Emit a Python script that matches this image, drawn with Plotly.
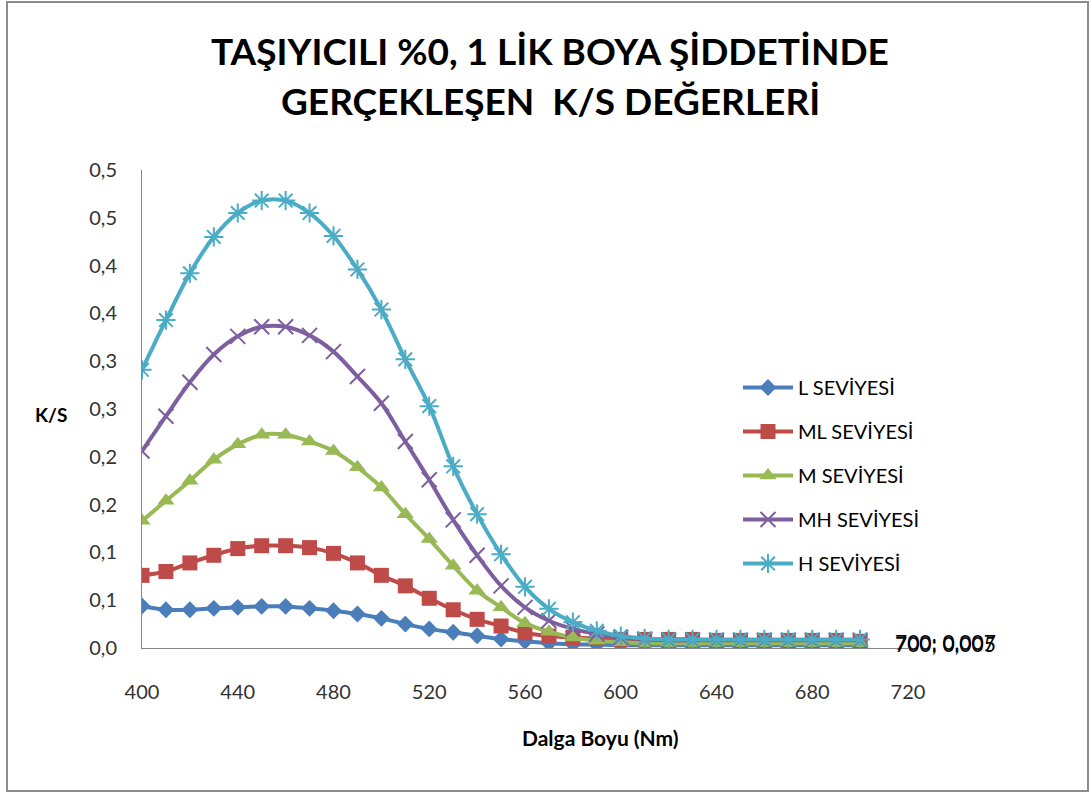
import plotly.graph_objects as go

# Wavelength (nm) and K/S values per dye level
wavelength = list(range(400, 701, 10))

ks_L = [0.044, 0.040, 0.040, 0.0415, 0.0425, 0.0435, 0.0435, 0.0415, 0.039, 0.0355,
        0.031, 0.025, 0.020, 0.0164, 0.0128, 0.0094, 0.007, 0.005, 0.004, 0.0035,
        0.003, 0.003, 0.003, 0.003, 0.003, 0.003, 0.003, 0.003, 0.003, 0.003, 0.003]
ks_ML = [0.076, 0.080, 0.089, 0.097, 0.104, 0.107, 0.107, 0.105, 0.099, 0.089,
         0.076, 0.065, 0.052, 0.040, 0.030, 0.023, 0.016, 0.0125, 0.011, 0.010,
         0.009, 0.009, 0.009, 0.009, 0.008, 0.008, 0.008, 0.008, 0.008, 0.008, 0.007]
ks_M = [0.133, 0.154, 0.175, 0.197, 0.213, 0.223, 0.223, 0.216, 0.206, 0.189,
        0.168, 0.140, 0.114, 0.086, 0.060, 0.0425, 0.026, 0.017, 0.011, 0.0076,
        0.006, 0.005, 0.005, 0.005, 0.005, 0.005, 0.005, 0.005, 0.005, 0.005, 0.005]
ks_MH = [0.206, 0.2425, 0.278, 0.307, 0.326, 0.336, 0.336, 0.327, 0.310, 0.284,
         0.256, 0.216, 0.176, 0.134, 0.097, 0.065, 0.0425, 0.0285, 0.020, 0.0146,
         0.011, 0.009, 0.008, 0.008, 0.008, 0.008, 0.008, 0.008, 0.008, 0.008, 0.008]
ks_H = [0.291, 0.343, 0.392, 0.430, 0.455, 0.468, 0.468, 0.455, 0.431, 0.396,
        0.354, 0.302, 0.253, 0.190, 0.140, 0.098, 0.064, 0.041, 0.027, 0.018,
        0.0125, 0.010, 0.009, 0.009, 0.009, 0.009, 0.009, 0.009, 0.009, 0.009, 0.009]

series_names = ["L SEVİYESİ", "ML SEVİYESİ", "M SEVİYESİ", "MH SEVİYESİ", "H SEVİYESİ"]
series_values = [ks_L, ks_ML, ks_M, ks_MH, ks_H]
series_colors = ["#4A7EBB", "#BE4B48", "#98B954", "#7D5FA0", "#4BACC6"]
series_symbols = ["diamond", "square", "triangle-up", "x-thin-open", "asterisk-open"]
series_sizes = [13, 15, 15, 15, 16]

x_ticks = [400, 440, 480, 520, 560, 600, 640, 680, 720]
y_ticks = [0, 0.05, 0.10, 0.15, 0.20, 0.25, 0.30, 0.35, 0.40, 0.45, 0.50]
y_tick_text = ["0,0", "0,1", "0,1", "0,2", "0,2", "0,3", "0,3", "0,4", "0,4", "0,5", "0,5"]

# Value labels on the last point (series index, text)
end_labels = [(2, "700; 0,005"), (1, "700; 0,007")]

W, H = 1092, 794
ML_, MR_, MT_, MB_ = 142, 184, 170, 146
PW, PH = W - ML_ - MR_, H - MT_ - MB_


def px(x):
    return (x - ML_) / PW


def py(y):
    return (H - MB_ - y) / PH


FONT = "Lato"
fig = go.Figure()

for i, (name, vals, col, sym, sz) in enumerate(
        zip(series_names, series_values, series_colors, series_symbols, series_sizes)):
    line_marker = dict(symbol=sym, size=sz, color=col)
    if sym.endswith("-open"):
        line_marker["line"] = dict(color=col, width=2)
    fig.add_trace(go.Scatter(
        x=wavelength, y=vals, name=name, mode="lines+markers",
        line=dict(color=col, width=4, shape="spline", smoothing=1),
        marker=line_marker, legendgroup=f"g{i}",
    ))

for idx, txt in end_labels:
    fig.add_annotation(x=wavelength[-1], y=series_values[idx][-1], text=txt,
                       showarrow=False, xanchor="left", yanchor="middle", xshift=33,
                       font=dict(family=FONT, size=21, color="#000"))

# Title lines
fig.add_annotation(x=px(550), y=py(50), xref="paper", yref="paper",
                   text="<b>TAŞIYICILI %0, 1 LİK BOYA ŞİDDETİNDE</b>", showarrow=False,
                   xanchor="center", yanchor="middle",
                   font=dict(family=FONT, size=37, color="#000"))
fig.add_annotation(x=px(550), y=py(101), xref="paper", yref="paper",
                   text="<b>GERÇEKLEŞEN  K/S DEĞERLERİ</b>", showarrow=False,
                   xanchor="center", yanchor="middle",
                   font=dict(family=FONT, size=37, color="#000"))

# Axis titles
fig.add_annotation(x=px(51), y=py(414), xref="paper", yref="paper", text="<b>K/S</b>",
                   showarrow=False, xanchor="center", yanchor="middle",
                   font=dict(family=FONT, size=19, color="#000"))
fig.add_annotation(x=px(600), y=py(737), xref="paper", yref="paper",
                   text="<b>Dalga Boyu (Nm)</b>", showarrow=False,
                   xanchor="center", yanchor="middle",
                   font=dict(family=FONT, size=21, color="#000"))

# Outer chart border
fig.add_shape(type="rect", xref="paper", yref="paper",
              x0=px(7), x1=px(1088), y0=py(791), y1=py(2),
              line=dict(color="#8C8C8C", width=2), fillcolor="rgba(0,0,0,0)", layer="below")

fig.update_layout(
    width=W, height=H,
    margin=dict(l=ML_, r=MR_, t=MT_, b=MB_),
    paper_bgcolor="white", plot_bgcolor="white",
    font=dict(family=FONT, size=20, color="#333"),
    showlegend=True,
    legend=dict(x=px(738), y=py(368), xanchor="left", yanchor="top",
                font=dict(family=FONT, size=20, color="#000"),
                itemwidth=50, tracegroupgap=15, bgcolor="rgba(0,0,0,0)"),
    xaxis=dict(range=[400, 720], tickvals=x_ticks, showgrid=False, zeroline=False,
               showline=True, linecolor="#868686", linewidth=1, ticks="",
               ticklabelstandoff=26,
               tickfont=dict(family=FONT, size=20, color="#333")),
    yaxis=dict(range=[0, 0.5], tickvals=y_ticks, ticktext=y_tick_text, showgrid=False,
               zeroline=False, showline=True, linecolor="#868686", linewidth=1, ticks="",
               ticklabelstandoff=20,
               tickfont=dict(family=FONT, size=20, color="#333")),
)

fig.write_html("out.html")
